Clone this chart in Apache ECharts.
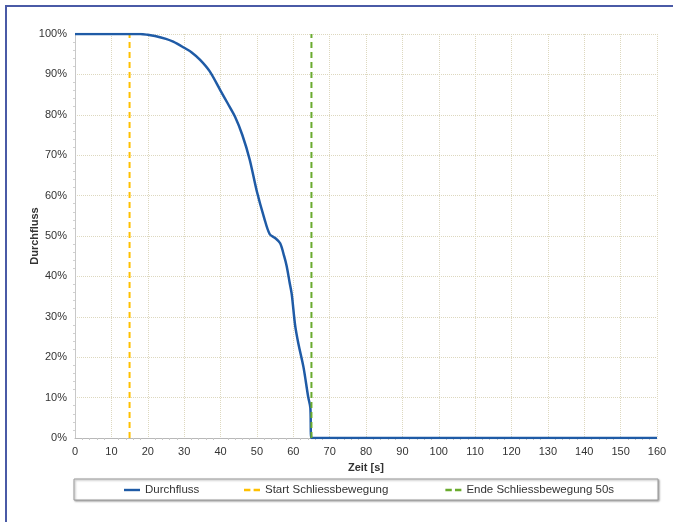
<!DOCTYPE html>
<html>
<head>
<meta charset="utf-8">
<script src="https://cdn.jsdelivr.net/npm/echarts@6/dist/echarts.min.js"></script>
<style>
  html, body { margin: 0; padding: 0; background: #fff; }
  #frame { position: absolute; left: 5px; top: 5px; width: 700px; height: 600px;
           border-left: 2px solid #4a5aa6; border-top: 2px solid #4a5aa6; }
  #chart { position: absolute; left: 0; top: 0; width: 673px; height: 522px; }
</style>
</head>
<body>
<div id="frame"></div>
<div id="chart"></div>
<script>
// Time [s] and flow [%]
const zeit = [0, 15, 18, 20, 22, 25, 27, 30, 32, 34.4, 37, 40, 42, 44, 46, 48, 50, 52, 53.5, 55, 56.4, 57.5, 58.2, 59, 59.6, 60.5, 61.4, 62.8, 64.1, 64.7, 65, 66, 160];
const durchfluss = [100, 100, 100, 99.8, 99.5, 98.8, 98.1, 96.6, 95.5, 93.6, 90.8, 86, 82.8, 79.5, 75, 69, 61, 54.5, 50.5, 49.5, 48.2, 45, 42.5, 38.5, 35.5, 28, 23.4, 17.6, 10.2, 7.5, 0, 0, 0];
const startZeit = 15;
const endeZeit = 65;
const seriesNames = ['Durchfluss', 'Start Schliessbewegung', 'Ende Schliessbewegung 50s'];
const xTicks = { min: 0, max: 160, interval: 10 };
const yTicks = { min: 0, max: 100, interval: 10 };

const chart = echarts.init(document.getElementById('chart'));
const font = 'Liberation Sans, Arial, sans-serif';
const solidIcon = 'path://M0,0h20v3h-20z';
const dashIcon = 'path://M0,0h8v3h-8z M12,0h8v3h-8z';
const legendText = { fontFamily: font, fontSize: 11.5, color: '#333' };
chart.setOption({
  animation: false,
  backgroundColor: 'transparent',
  grid: { left: 75, right: 16, top: 34, bottom: 84 },
  graphic: [{
    type: 'rect', shape: { x: 74, y: 479, width: 584, height: 21 },
    style: { fill: '#fff', stroke: '#9a9a9a', lineWidth: 1,
             shadowBlur: 2, shadowOffsetX: 1, shadowOffsetY: 1, shadowColor: 'rgba(0,0,0,0.35)' }
  }],
  legend: [
    {
      data: [{ name: seriesNames[0], icon: solidIcon }],
      left: 124, top: 484, itemWidth: 16, itemHeight: 12, padding: 0,
      textStyle: legendText
    },
    {
      data: [{ name: seriesNames[1], icon: dashIcon }, { name: seriesNames[2], icon: dashIcon }],
      left: 244, top: 484, itemGap: 57, itemWidth: 16, itemHeight: 12, padding: 0,
      textStyle: legendText
    }
  ],
  xAxis: {
    type: 'value', min: xTicks.min, max: xTicks.max, interval: xTicks.interval,
    name: 'Zeit [s]', nameLocation: 'middle', nameGap: 24,
    nameTextStyle: { fontFamily: font, fontSize: 11, fontWeight: 'bold', color: '#333' },
    axisLine: { lineStyle: { color: '#b8b8b8', width: 1 } },
    axisTick: { show: false },
    minorTick: { show: true, splitNumber: 5, length: 2, lineStyle: { color: '#c8c8c8' } },
    axisLabel: { fontFamily: font, fontSize: 11, color: '#333', margin: 8 },
    splitLine: { show: true, lineStyle: { color: '#ddd8bf', type: 'dotted', width: 1 } }
  },
  yAxis: {
    type: 'value', min: yTicks.min, max: yTicks.max, interval: yTicks.interval,
    name: 'Durchfluss', nameLocation: 'middle', nameGap: 35, nameMoveOverlap: false,
    nameTextStyle: { fontFamily: font, fontSize: 11, fontWeight: 'bold', color: '#333' },
    axisLine: { show: true, lineStyle: { color: '#c8c8c8', width: 1 } },
    axisTick: { show: false },
    minorTick: { show: true, splitNumber: 5, length: 2, lineStyle: { color: '#d0d0d0' } },
    axisLabel: { fontFamily: font, fontSize: 11, color: '#333', formatter: '{value}%', margin: 8 },
    splitLine: { show: true, lineStyle: { color: '#ddd8bf', type: 'dotted', width: 1 } }
  },
  series: [
    {
      name: seriesNames[0], type: 'line', symbol: 'none',
      smooth: 0.3,
      data: zeit.map((t, i) => [t, durchfluss[i]]),
      lineStyle: { color: '#1f5ba6', width: 2.5 },
      itemStyle: { color: '#1f5ba6' }, z: 3
    },
    {
      name: seriesNames[1], type: 'line', symbol: 'none',
      data: [[startZeit, 0], [startZeit, 100]],
      lineStyle: { color: '#ffc000', width: 2, type: [6, 4] },
      itemStyle: { color: '#ffc000' }, z: 2
    },
    {
      name: seriesNames[2], type: 'line', symbol: 'none',
      data: [[endeZeit, 0], [endeZeit, 100]],
      lineStyle: { color: '#6aab2e', width: 2, type: [6, 4] },
      itemStyle: { color: '#6aab2e' }, z: 4
    }
  ]
});
</script>
</body>
</html>
